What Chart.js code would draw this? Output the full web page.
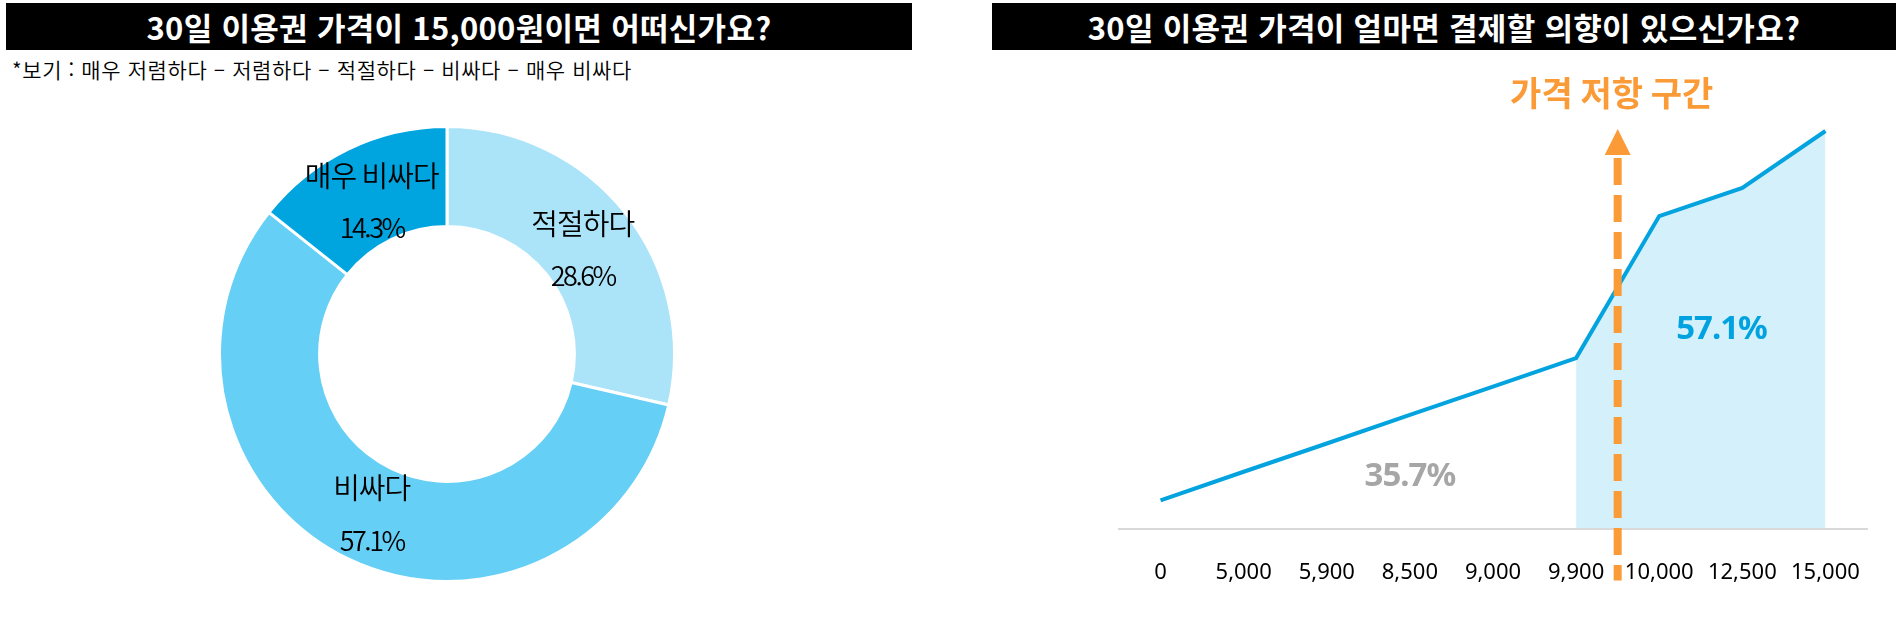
<!DOCTYPE html>
<html lang="ko">
<head>
<meta charset="utf-8">
<script src="https://cdn.jsdelivr.net/npm/chart.js@4/dist/chart.umd.min.js"></script>
<style>
  html, body { margin: 0; padding: 0; background: #fff; }
  body { width: 1898px; height: 643px; position: relative; overflow: hidden; font-family: 'Noto Sans CJK KR', 'Noto Sans', sans-serif; }
  .bar { position: absolute; top: 3px; height: 47px; background: #000; color: #fff; font-weight: 700; font-size: 31px; line-height: 47px; text-align: center; letter-spacing: 0.3px; }
  .note { position: absolute; left: 12px; top: 56px; font-size: 21px; line-height: 26px; color: #000; letter-spacing: 0.6px; font-weight: 350; }
  #donutBox { position: absolute; left: 218px; top: 125px; width: 458px; height: 458px; }
  #lineBox { position: absolute; left: 993px; top: 50px; width: 905px; height: 593px; }
</style>
</head>
<body>
<div class="bar" style="left:6px;width:906px;">30일 이용권 가격이 15,000원이면 어떠신가요?</div>
<div class="bar" style="left:992px;width:904px;">30일 이용권 가격이 얼마면 결제할 의향이 있으신가요?</div>
<div class="note">*보기 : 매우 저렴하다 – 저렴하다 – 적절하다 – 비싸다 – 매우 비싸다</div>
<div id="donutBox"><canvas id="donut" width="458" height="458"></canvas></div>
<div id="lineBox"><canvas id="line" width="905" height="593"></canvas></div>
<script>
// 15,000원 가격 평가 (응답 비율 %)
const ratingLabels = ['적절하다', '비싸다', '매우 비싸다'];
const ratingValues = [28.6, 57.1, 14.3];
const ratingColors = ['#ABE4F9', '#66CFF5', '#00A5DF'];

// 가격별 결제 의향 (누적 %)
const priceLabels = ['0', '5,000', '5,900', '8,500', '9,000', '9,900', '10,000', '12,500', '15,000'];
const payIntent = [7.1, 14.3, 21.4, 28.6, 35.7, 42.9, 78.6, 85.7, 100];
const resistStart = 5; // 9,900부터 음영
const rangeTexts = ['35.7%', '57.1%'];
const resistTitle = '가격 저항 구간';

const donutLabelPlugin = {
  id: 'donutLabels',
  afterDatasetsDraw(chart) {
    const ctx = chart.ctx;
    const meta = chart.getDatasetMeta(0);
    meta.data.forEach((arc, i) => {
      const p = arc.getProps(['x', 'y', 'startAngle', 'endAngle', 'innerRadius', 'outerRadius'], true);
      const mid = (p.startAngle + p.endAngle) / 2;
      const r = (p.innerRadius + p.outerRadius) / 2 - 4;
      const cx = p.x + Math.cos(mid) * r;
      const cy = p.y + Math.sin(mid) * r + 3;
      ctx.save();
      ctx.fillStyle = '#000';
      ctx.textAlign = 'center';
      ctx.textBaseline = 'middle';
      ctx.font = '350 29px "Noto Sans CJK KR"';
      ctx.letterSpacing = '-1px';
      ctx.fillText(ratingLabels[i], cx, cy - 25);
      ctx.font = '350 27px "Noto Sans CJK KR"';
      ctx.letterSpacing = '-2.5px';
      ctx.fillText(ratingValues[i].toFixed(1) + '%', cx, cy + 27);
      ctx.restore();
    });
  }
};

new Chart(document.getElementById('donut'), {
  type: 'doughnut',
  data: {
    labels: ratingLabels,
    datasets: [{
      data: ratingValues,
      backgroundColor: ratingColors,
      borderColor: '#fff',
      borderWidth: 3
    }]
  },
  options: {
    responsive: false,
    devicePixelRatio: 1,
    animation: false,
    events: [],
    cutout: '56%',
    layout: { padding: 0 },
    plugins: { legend: { display: false }, tooltip: { enabled: false } }
  },
  plugins: [donutLabelPlugin]
});

const resistPlugin = {
  id: 'resist',
  afterDraw(chart) {
    const ctx = chart.ctx;
    const xs = chart.scales.x, ys = chart.scales.y;
    const ax = xs.getPixelForValue(resistStart + 0.5);
    const tip = ys.getPixelForValue(100) - 2;
    const base = tip + 26;
    const bottom = ys.getPixelForValue(0) + 52;
    ctx.save();
    ctx.strokeStyle = '#FA9B38';
    ctx.fillStyle = '#FA9B38';
    ctx.lineWidth = 8;
    ctx.setLineDash([27, 10]);
    ctx.beginPath();
    ctx.moveTo(ax, base + 3);
    ctx.lineTo(ax, bottom);
    ctx.stroke();
    ctx.setLineDash([]);
    ctx.beginPath();
    ctx.moveTo(ax, tip);
    ctx.lineTo(ax - 13, base);
    ctx.lineTo(ax + 13, base);
    ctx.closePath();
    ctx.fill();

    ctx.textAlign = 'center';
    ctx.textBaseline = 'middle';
    ctx.font = '700 34px "Noto Sans CJK KR"';
    ctx.fillText(resistTitle, ax - 6, ys.getPixelForValue(109.5));

    ctx.font = '700 33px "Noto Sans"';
    ctx.letterSpacing = '-1px';
    ctx.fillStyle = '#A6A6A6';
    ctx.fillText(rangeTexts[0], xs.getPixelForValue(3), ys.getPixelForValue(13.2));
    ctx.fillStyle = '#00A3E0';
    ctx.fillText(rangeTexts[1], xs.getPixelForValue(6.75), ys.getPixelForValue(50));
    ctx.restore();
  }
};

new Chart(document.getElementById('line'), {
  type: 'line',
  data: {
    labels: priceLabels,
    datasets: [{
      data: payIntent,
      borderColor: '#03A3DF',
      borderWidth: 4,
      pointRadius: 0,
      tension: 0,
      fill: false,
      clip: false
    }, {
      data: payIntent.map((v, i) => (i >= resistStart ? v : null)),
      borderWidth: 0,
      borderColor: 'rgba(0,0,0,0)',
      backgroundColor: '#D4F0FA',
      pointRadius: 0,
      fill: 'origin',
      spanGaps: false
    }]
  },
  options: {
    responsive: false,
    devicePixelRatio: 1,
    animation: false,
    events: [],
    layout: { padding: { left: 126, right: 31, top: 81, bottom: 26 } },
    scales: {
      x: {
        offset: true,
        grid: { display: false, drawTicks: false },
        border: { display: true, color: '#D9D9D9', width: 2 },
        ticks: { color: '#000', padding: 31, font: { family: 'Noto Sans', size: 22 } }
      },
      y: { display: false, min: 0, max: 100 }
    },
    plugins: { legend: { display: false }, tooltip: { enabled: false } }
  },
  plugins: [resistPlugin]
});
</script>
</body>
</html>
